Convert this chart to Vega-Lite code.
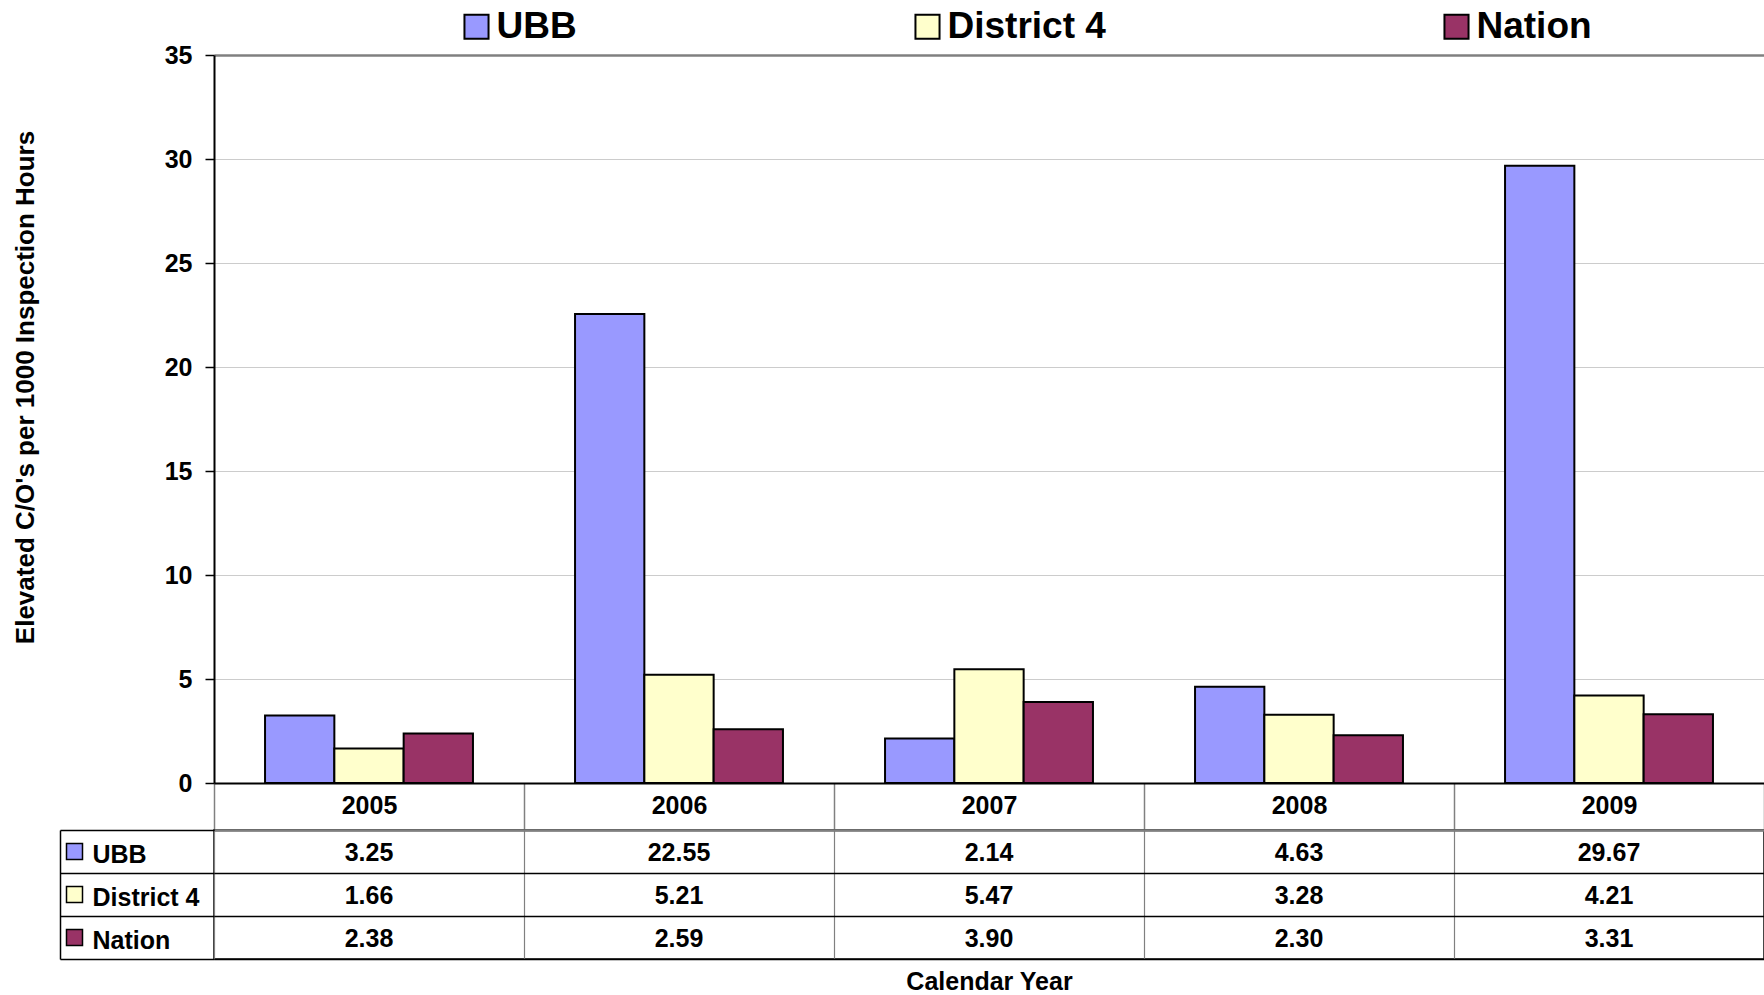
{
  "$schema": "https://vega.github.io/schema/vega-lite/v6.json",
  "background": "white",
  "padding": {"left": 12, "top": 8, "right": 0, "bottom": 0},
  "config": {
    "view": {"stroke": null},
    "font": "Liberation Sans",
    "axis": {"labelFont": "Liberation Sans", "titleFont": "Liberation Sans"},
    "legend": {"labelFont": "Liberation Sans"}
  },
  "data": {
    "values": [
      {"year": "2005", "series": "UBB", "value": 3.25},
      {"year": "2005", "series": "District 4", "value": 1.66},
      {"year": "2005", "series": "Nation", "value": 2.38},
      {"year": "2006", "series": "UBB", "value": 22.55},
      {"year": "2006", "series": "District 4", "value": 5.21},
      {"year": "2006", "series": "Nation", "value": 2.59},
      {"year": "2007", "series": "UBB", "value": 2.14},
      {"year": "2007", "series": "District 4", "value": 5.47},
      {"year": "2007", "series": "Nation", "value": 3.90},
      {"year": "2008", "series": "UBB", "value": 4.63},
      {"year": "2008", "series": "District 4", "value": 3.28},
      {"year": "2008", "series": "Nation", "value": 2.30},
      {"year": "2009", "series": "UBB", "value": 29.67},
      {"year": "2009", "series": "District 4", "value": 4.21},
      {"year": "2009", "series": "Nation", "value": 3.31}
    ]
  },
  "columns": 2,
  "spacing": {"row": 47, "column": 125},
  "bounds": "flush",
  "resolve": {"scale": {"x": "independent", "y": "independent", "color": "independent"}},
  "concat": [
    {
      "width": 29,
      "height": 728,
      "data": {"values": []},
      "mark": "point"
    },
    {
      "width": 1550,
      "height": 728,
      "mark": {"type": "bar", "stroke": "black", "strokeWidth": 2},
      "encoding": {
        "x": {
          "field": "year", "type": "nominal",
          "scale": {"paddingInner": 0, "paddingOuter": 0},
          "axis": {
            "title": "Calendar Year", "titleFontSize": 25, "titleFontWeight": "bold", "titleColor": "black",
            "titleY": 206, "titleBaseline": "alphabetic",
            "labelAngle": 0, "labelFontSize": 25, "labelFontWeight": "bold", "labelColor": "black",
            "labelBaseline": "alphabetic", "labelPadding": -17,
            "domainColor": "black", "domainWidth": 2,
            "ticks": true, "tickBand": "extent", "tickSize": 47, "tickColor": "#808080", "tickWidth": 1.5,
            "grid": false
          }
        },
        "xOffset": {
          "field": "series", "type": "nominal", "sort": ["UBB", "District 4", "Nation"],
          "scale": {"paddingInner": 0, "paddingOuter": 0.7365}
        },
        "y": {
          "field": "value", "type": "quantitative",
          "scale": {"domain": [0, 35]},
          "axis": {
            "values": [0, 5, 10, 15, 20, 25, 30, 35],
            "title": "Elevated C/O's per 1000 Inspection Hours",
            "titleFontSize": 26, "titleFontWeight": "bold", "titleColor": "black",
            "titleX": -181, "titleY": 332, "titleAngle": 270, "titleAlign": "center", "titleBaseline": "alphabetic",
            "labelFontSize": 25, "labelFontWeight": "bold", "labelColor": "black", "labelPadding": 13,
            "tickSize": 9, "tickColor": "black", "tickWidth": 1.5,
            "domainColor": "black", "domainWidth": 2,
            "grid": true,
            "gridColor": {"condition": {"test": "datum.value === 35", "value": "#808080"}, "value": "#cccccc"},
            "gridWidth": {"condition": {"test": "datum.value === 35", "value": 2.5}, "value": 1}
          }
        },
        "color": {
          "field": "series", "type": "nominal",
          "scale": {"domain": ["UBB", "District 4", "Nation"], "range": ["#9999FF", "#FFFFCC", "#993366"]},
          "legend": {
            "orient": "none", "legendX": 244, "legendY": -47, "direction": "horizontal",
            "title": null, "symbolType": "square", "symbolSize": 580,
            "symbolStrokeColor": "black", "symbolStrokeWidth": 2, "symbolOpacity": 1,
            "labelFontSize": 37, "labelFontWeight": "bold", "labelColor": "black",
            "labelOffset": 1.5, "columnPadding": 332, "padding": 0, "labelLimit": 0
          }
        }
      }
    },
    {
      "width": 29,
      "height": 129,
      "transform": [{"filter": "datum.year == '2005'"}],
      "mark": {"type": "square", "size": 256, "stroke": "black", "strokeWidth": 1.5, "opacity": 1},
      "encoding": {
        "y": {
          "field": "series", "type": "nominal", "sort": ["UBB", "District 4", "Nation"],
          "bandPosition": 0.64,
          "scale": {"paddingInner": 0, "paddingOuter": 0},
          "axis": null
        },
        "color": {
          "field": "series", "type": "nominal",
          "scale": {"domain": ["UBB", "District 4", "Nation"], "range": ["#9999FF", "#FFFFCC", "#993366"]},
          "legend": null
        }
      }
    },
    {
      "width": 1550,
      "height": 129,
      "view": {"stroke": "black", "strokeWidth": 1.5},
      "mark": {"type": "text", "fontSize": 25, "fontWeight": "bold", "color": "black"},
      "encoding": {
        "x": {
          "field": "year", "type": "nominal",
          "scale": {"paddingInner": 0, "paddingOuter": 0},
          "axis": {
            "orient": "top", "title": null, "labels": false, "ticks": false,
            "domainColor": "#808080", "domainWidth": 2.5,
            "grid": true, "tickBand": "extent", "gridColor": "#808080", "gridWidth": 1.2
          }
        },
        "y": {
          "field": "series", "type": "nominal", "sort": ["UBB", "District 4", "Nation"],
          "bandPosition": 0.53,
          "scale": {"paddingInner": 0, "paddingOuter": 0},
          "axis": {
            "orient": "left", "title": null, "offset": 154,
            "domainColor": "black", "domainWidth": 1.5,
            "ticks": true, "tickBand": "extent", "tickSize": -154,
            "tickColor": "black", "tickWidth": 1.5,
            "labelAlign": "left", "labelPadding": 122, "labelOffset": 3, "labelFontSize": 25, "labelFontWeight": "bold", "labelColor": "black",
            "grid": true, "gridColor": "black", "gridWidth": 1.5
          }
        },
        "text": {"field": "value", "type": "quantitative", "format": ".2f"}
      }
    }
  ]
}
